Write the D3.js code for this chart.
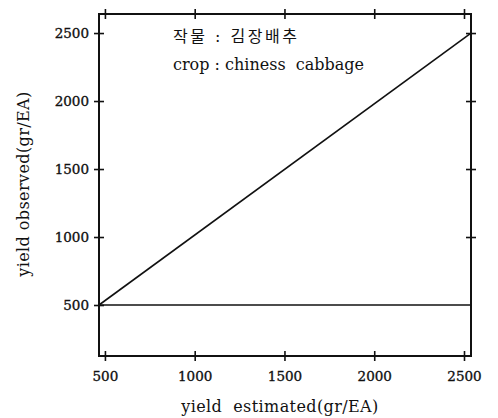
<!DOCTYPE html>
<html>
<head>
<meta charset="utf-8">
<script src="https://cdn.jsdelivr.net/npm/d3@7"></script>
<style>
  body { margin: 0; background: #fff; }
</style>
</head>
<body>
<div id="chart"></div>
<script>
// data
const xTicks = [500, 1000, 1500, 2000, 2500];
const yTicks = [500, 1000, 1500, 2000, 2500];
const xDomain = [467, 2539];
const yDomain = [125, 2640];
// fitted line (observed vs estimated) and the 500 baseline
const fitLine = [[467, 500], [2539, 2500]];
const baseLine = [[467, 500], [2539, 500]];
const notes = ['작물 : 김장배추', 'crop : chiness  cabbage'];

const width = 498, height = 418;
const plot = {left: 99, right: 471, top: 14, bottom: 356};
const serif = '"DejaVu Serif", "Noto Sans CJK KR", serif';

const svg = d3.select('#chart').append('svg')
    .attr('width', width).attr('height', height);

const x = d3.scaleLinear().domain(xDomain).range([plot.left, plot.right]);
const y = d3.scaleLinear().domain(yDomain).range([plot.bottom, plot.top]);

// frame
svg.append('rect')
    .attr('x', plot.left).attr('y', plot.top)
    .attr('width', plot.right - plot.left).attr('height', plot.bottom - plot.top)
    .attr('fill', 'none').attr('stroke', '#111').attr('stroke-width', 2);

// axes, ticks crossing the frame
function crossTicks(g, horiz) {
    g.select('.domain').remove();
    g.selectAll('.tick line')
        .attr('stroke', '#111').attr('stroke-width', 1.6)
        .attr(horiz ? 'y1' : 'x1', -5).attr(horiz ? 'y2' : 'x2', 5);
}

const fmt = d3.format('d');

svg.append('g')
    .attr('transform', `translate(0,${plot.bottom})`)
    .call(d3.axisBottom(x).tickValues(xTicks).tickSize(5).tickPadding(10).tickFormat(fmt))
    .call((g) => crossTicks(g, true));

svg.append('g')
    .attr('transform', `translate(0,${plot.top})`)
    .call(d3.axisTop(x).tickValues(xTicks).tickSize(5).tickFormat(''))
    .call((g) => crossTicks(g, true));

svg.append('g')
    .attr('transform', `translate(${plot.left},0)`)
    .call(d3.axisLeft(y).tickValues(yTicks).tickSize(5).tickPadding(5).tickFormat(fmt))
    .call((g) => crossTicks(g, false));

svg.append('g')
    .attr('transform', `translate(${plot.right},0)`)
    .call(d3.axisRight(y).tickValues(yTicks.slice(1)).tickSize(5).tickFormat(''))
    .call((g) => crossTicks(g, false));

svg.selectAll('.tick text')
    .style('font-family', serif)
    .style('font-size', '13.5px')
    .attr('fill', '#111')
    .attr('stroke', '#111').attr('stroke-width', 0.35);

// lines
const line = d3.line().x((d) => x(d[0])).y((d) => y(d[1]));
[fitLine, baseLine].forEach((pts) => {
    svg.append('path')
        .attr('d', line(pts))
        .attr('fill', 'none').attr('stroke', '#111').attr('stroke-width', 1.6);
});

// annotation
svg.selectAll('.note')
    .data(notes).enter()
    .append('text')
    .attr('class', 'note')
    .attr('x', 173)
    .attr('y', (d, i) => 42 + i * 28)
    .attr('fill', '#111')
    .style('font-family', serif)
    .style('font-size', '16px')
    .style('letter-spacing', (d, i) => (i === 0 ? '2.5px' : '0px'))
    .style('white-space', 'pre')
    .text((d) => d);

// axis titles
svg.append('text')
    .attr('x', 280).attr('y', 412)
    .attr('text-anchor', 'middle')
    .attr('fill', '#111')
    .style('font-family', serif)
    .style('font-size', '16px')
    .style('letter-spacing', '0.4px')
    .style('white-space', 'pre')
    .text('yield  estimated(gr/EA)');

svg.append('text')
    .attr('transform', 'translate(29,184) rotate(-90)')
    .attr('text-anchor', 'middle')
    .attr('fill', '#111')
    .style('font-family', serif)
    .style('font-size', '16px')
    .style('letter-spacing', '0.4px')
    .text('yield observed(gr/EA)');
</script>
</body>
</html>
